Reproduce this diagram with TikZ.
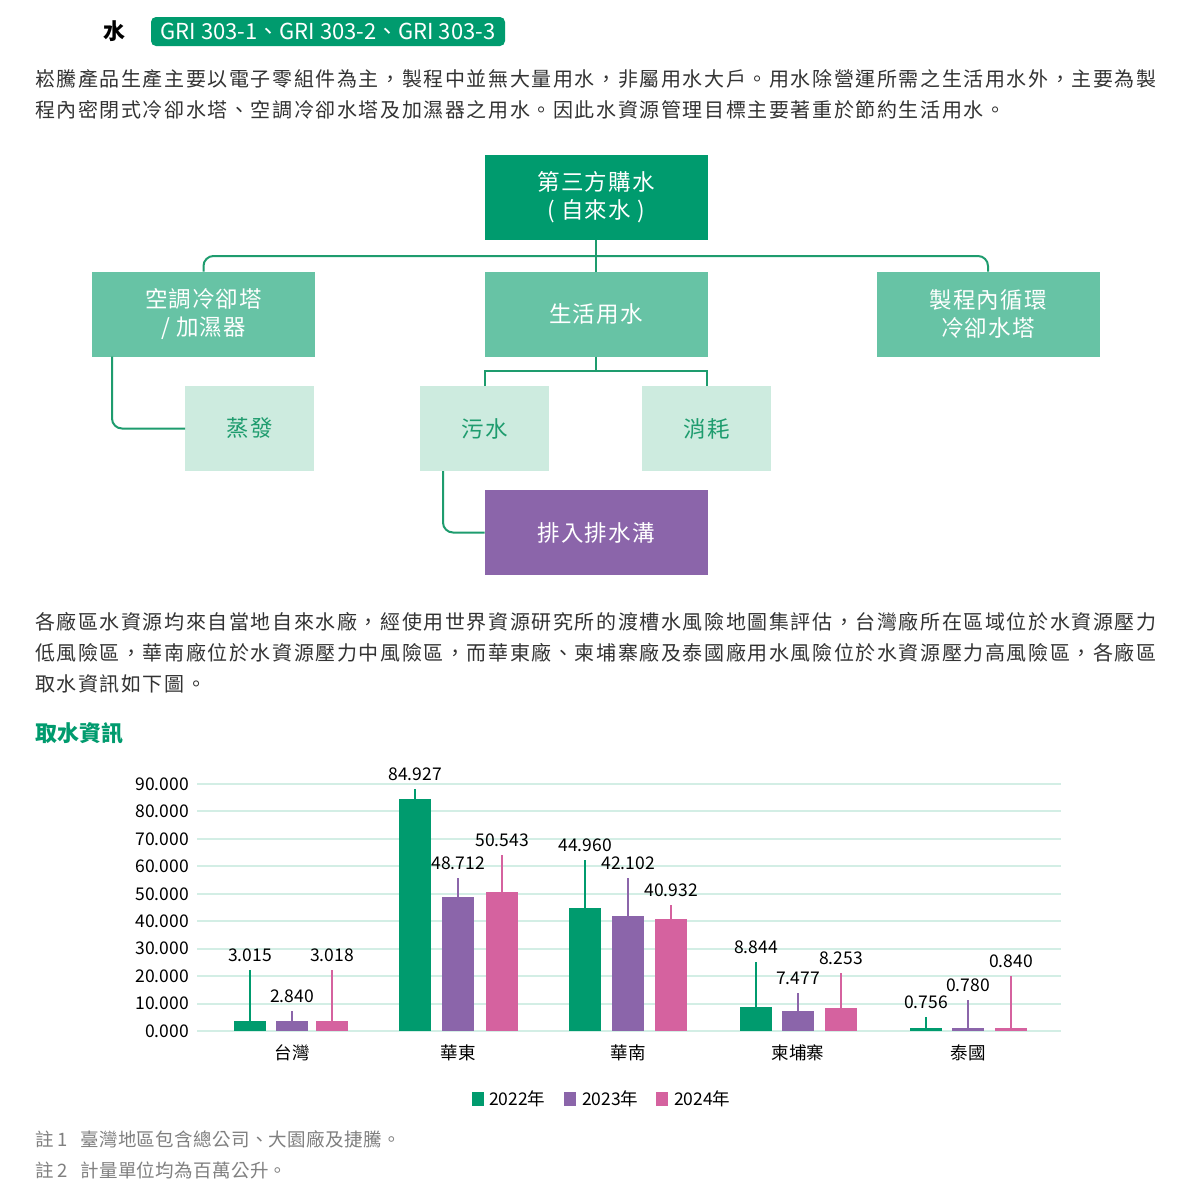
\documentclass[tikz,border=0pt]{standalone}
\usepackage{fontspec}
\setmainfont{Noto Sans CJK TC}
\newfontfamily\bodyfont{Noto Sans CJK TC}[LetterSpace=8]
\newfontfamily\boxfont{Noto Sans CJK TC}[LetterSpace=5]
\newfontfamily\notefont{Noto Sans CJK TC}[LetterSpace=2]
\definecolor{gDark}{HTML}{009B6E}
\definecolor{gLine}{HTML}{1E9C6E}
\definecolor{gMid}{HTML}{67C3A5}
\definecolor{gLight}{HTML}{CDEBDF}
\definecolor{gGrid}{HTML}{D3EEE5}
\definecolor{purp}{HTML}{8B65AA}
\definecolor{pink}{HTML}{D5629F}
\definecolor{txt}{HTML}{333333}
\definecolor{note}{HTML}{808080}

\begin{document}
\begin{tikzpicture}[x=1pt,y=-1pt]
\tikzset{ inner sep=0pt, outer sep=0pt,
  para/.style={anchor=west, text=txt, font=\bodyfont\fontsize{20}{24}\selectfont},
  fbox/.style={minimum width=223pt, minimum height=85pt, align=center, font=\boxfont\fontsize{22.5}{28}\selectfont},
  sbox/.style={minimum width=129pt, minimum height=85pt, fill=gLight, text=gLine, font=\boxfont\fontsize{22.5}{28}\selectfont},
  flow/.style={draw=gLine, line width=2pt},
  bar/.style={anchor=south, minimum width=32pt},
  val/.style={anchor=south, inner sep=4pt, outer sep=4pt, text=black, font=\fontsize{17.5}{20}\selectfont},
  lead/.style={line width=1.6pt},
  cat/.style={text=black, font=\fontsize{17.5}{20}\selectfont},
}

\fill[white] (0,0) rectangle (1186,1200);
\useasboundingbox (0,0) rectangle (1186,1200);

%%% Titulo

\node[font=\bfseries\fontsize{22}{26}\selectfont, text=black] (titulo) at (114,31) {水};
\node[fill=gDark, rounded corners=5pt, minimum width=354pt, minimum height=29pt, text=white,
      font=\fontsize{22}{26}\selectfont] (gri) at (328,31.5) {GRI 303-1、GRI 303-2、GRI 303-3};

% paragrafo 1
\node[para] (p1a) at (35,79) {崧騰產品生產主要以電子零組件為主，製程中並無大量用水，非屬用水大戶。用水除營運所需之生活用水外，主要為製};
\node[para] (p1b) at (35,110) {程內密閉式冷卻水塔、空調冷卻水塔及加濕器之用水。因此水資源管理目標主要著重於節約生活用水。};

%%% Blocos 

% compra de agua
\node[fbox, fill=gDark, text=white] (TOP) at (596,197.5) {第三方購水\\( 自來水 )};

% usos
\node[fbox, fill=gMid, text=white] (AC)  at (203.5,314) {空調冷卻塔\\/ 加濕器};
\node[fbox, fill=gMid, text=white] (DOM) at (596,314)   {生活用水};
\node[fbox, fill=gMid, text=white] (PC)  at (988,314)   {製程內循環\\冷卻水塔};

% destinos
\node[sbox] (EV) at (249.5,428.5) {蒸發};
\node[sbox] (WW) at (484.5,428.5) {污水};
\node[sbox] (CS) at (706.5,428.5) {消耗};

% esgoto
\node[fbox, fill=purp, text=white] (DR) at (596,532.5) {排入排水溝};

%%% Linhas 

\coordinate (bus)   at (596,256);
\coordinate (split) at (596,371);

% TOP -> usos
\draw[flow] (TOP.south) -- (DOM.north);
\draw[flow, rounded corners=10pt] (AC.north) |- (bus) -| (PC.north);

% AC -> EV
\draw[flow, rounded corners=10pt] ([xshift=20pt]AC.south west) |- (EV.west);

% DOM -> WW, CS
\draw[flow] (DOM.south) -- (split);
\draw[flow] (WW.north) |- (split) -| (CS.north);

% WW -> DR
\draw[flow, rounded corners=10pt] ([xshift=23pt]WW.south west) |- (DR.west);

% paragrafo 2
\node[para] (p2a) at (35,622) {各廠區水資源均來自當地自來水廠，經使用世界資源研究所的渡槽水風險地圖集評估，台灣廠所在區域位於水資源壓力};
\node[para] (p2b) at (35,653) {低風險區，華南廠位於水資源壓力中風險區，而華東廠、柬埔寨廠及泰國廠用水風險位於水資源壓力高風險區，各廠區};
\node[para] (p2c) at (35,684) {取水資訊如下圖。};

\node[anchor=west, text=gDark, font=\bfseries\fontsize{22}{26}\selectfont] (graf) at (35,733) {取水資訊};

%%% Grafico

% grade e eixo
\foreach \v/\t in {0/0.000,10/10.000,20/20.000,30/30.000,40/40.000,50/50.000,60/60.000,70/70.000,80/80.000,90/90.000}{
  \pgfmathsetmacro{\yy}{1031-\v*2.7444}
  \draw[gGrid, line width=2pt] (197,\yy) -- (1061,\yy);
  \node[anchor=east, text=black, font=\fontsize{17.5}{20}\selectfont] (eixo\v) at (189,\yy) {\t};
}

% barras 2022 / 2023 / 2024
\node[bar, fill=gDark, minimum height=10pt]  (TW1) at (250,1031) {};
\node[bar, fill=purp,  minimum height=10pt]  (TW2) at (292,1031) {};
\node[bar, fill=pink,  minimum height=10pt]  (TW3) at (332,1031) {};
\node[bar, fill=gDark, minimum height=232pt] (HD1) at (415,1031) {};
\node[bar, fill=purp,  minimum height=134pt] (HD2) at (458,1031) {};
\node[bar, fill=pink,  minimum height=139pt] (HD3) at (502,1031) {};
\node[bar, fill=gDark, minimum height=123.4pt] (HN1) at (585,1031) {};
\node[bar, fill=purp,  minimum height=115.5pt] (HN2) at (628,1031) {};
\node[bar, fill=pink,  minimum height=112.3pt] (HN3) at (671,1031) {};
\node[bar, fill=gDark, minimum height=24pt]  (KH1) at (756,1031) {};
\node[bar, fill=purp,  minimum height=20.5pt] (KH2) at (798,1031) {};
\node[bar, fill=pink,  minimum height=22.6pt] (KH3) at (841,1031) {};
\node[bar, fill=gDark, minimum height=3pt]   (TH1) at (926,1031) {};
\node[bar, fill=purp,  minimum height=3pt]   (TH2) at (968,1031) {};
\node[bar, fill=pink,  minimum height=3pt]   (TH3) at (1011,1031) {};

% valores
\node[val] (vTW1) at (250,970)  {3.015};
\node[val] (vTW2) at (292,1011) {2.840};
\node[val] (vTW3) at (332,970)  {3.018};
\node[val] (vHD1) at (415,789)  {84.927};
\node[val] (vHD2) at (458,878)  {48.712};
\node[val] (vHD3) at (502,855)  {50.543};
\node[val] (vHN1) at (585,860)  {44.960};
\node[val] (vHN2) at (628,878)  {42.102};
\node[val] (vHN3) at (671,905)  {40.932};
\node[val] (vKH1) at (756,962)  {8.844};
\node[val] (vKH2) at (798,993)  {7.477};
\node[val] (vKH3) at (841,973)  {8.253};
\node[val] (vTH1) at (926,1017) {0.756};
\node[val] (vTH2) at (968,1000) {0.780};
\node[val] (vTH3) at (1011,976) {0.840};

% linhas de chamada
\draw[lead, gDark] (TW1.north) -- (vTW1.south);
\draw[lead, purp]  (TW2.north) -- (vTW2.south);
\draw[lead, pink]  (TW3.north) -- (vTW3.south);
\draw[lead, gDark] (HD1.north) -- (vHD1.south);
\draw[lead, purp]  (HD2.north) -- (vHD2.south);
\draw[lead, pink]  (HD3.north) -- (vHD3.south);
\draw[lead, gDark] (HN1.north) -- (vHN1.south);
\draw[lead, purp]  (HN2.north) -- (vHN2.south);
\draw[lead, pink]  (HN3.north) -- (vHN3.south);
\draw[lead, gDark] (KH1.north) -- (vKH1.south);
\draw[lead, purp]  (KH2.north) -- (vKH2.south);
\draw[lead, pink]  (KH3.north) -- (vKH3.south);
\draw[lead, gDark] (TH1.north) -- (vTH1.south);
\draw[lead, purp]  (TH2.north) -- (vTH2.south);
\draw[lead, pink]  (TH3.north) -- (vTH3.south);

% categorias
\node[cat] (cTW) at (292,1053) {台灣};
\node[cat] (cHD) at (458,1053) {華東};
\node[cat] (cHN) at (628,1053) {華南};
\node[cat] (cKH) at (798,1053) {柬埔寨};
\node[cat] (cTH) at (968,1053) {泰國};

% legenda
\node[fill=gDark, minimum width=12pt, minimum height=14pt] (lg1) at (478,1099) {};
\node[cat, anchor=west] (lt1) at (489,1099) {2022年};
\node[fill=purp, minimum width=12pt, minimum height=14pt] (lg2) at (570,1099) {};
\node[cat, anchor=west] (lt2) at (582,1099) {2023年};
\node[fill=pink, minimum width=12pt, minimum height=14pt] (lg3) at (662,1099) {};
\node[cat, anchor=west] (lt3) at (674,1099) {2024年};

% notas
\node[anchor=west, text=note, font=\notefont\fontsize{18.5}{22}\selectfont] (n1) at (35,1139) {註 1\hspace{12pt}臺灣地區包含總公司、大園廠及捷騰。};
\node[anchor=west, text=note, font=\notefont\fontsize{18.5}{22}\selectfont] (n2) at (35,1170) {註 2\hspace{12pt}計量單位均為百萬公升。};

\end{tikzpicture}
\end{document}
